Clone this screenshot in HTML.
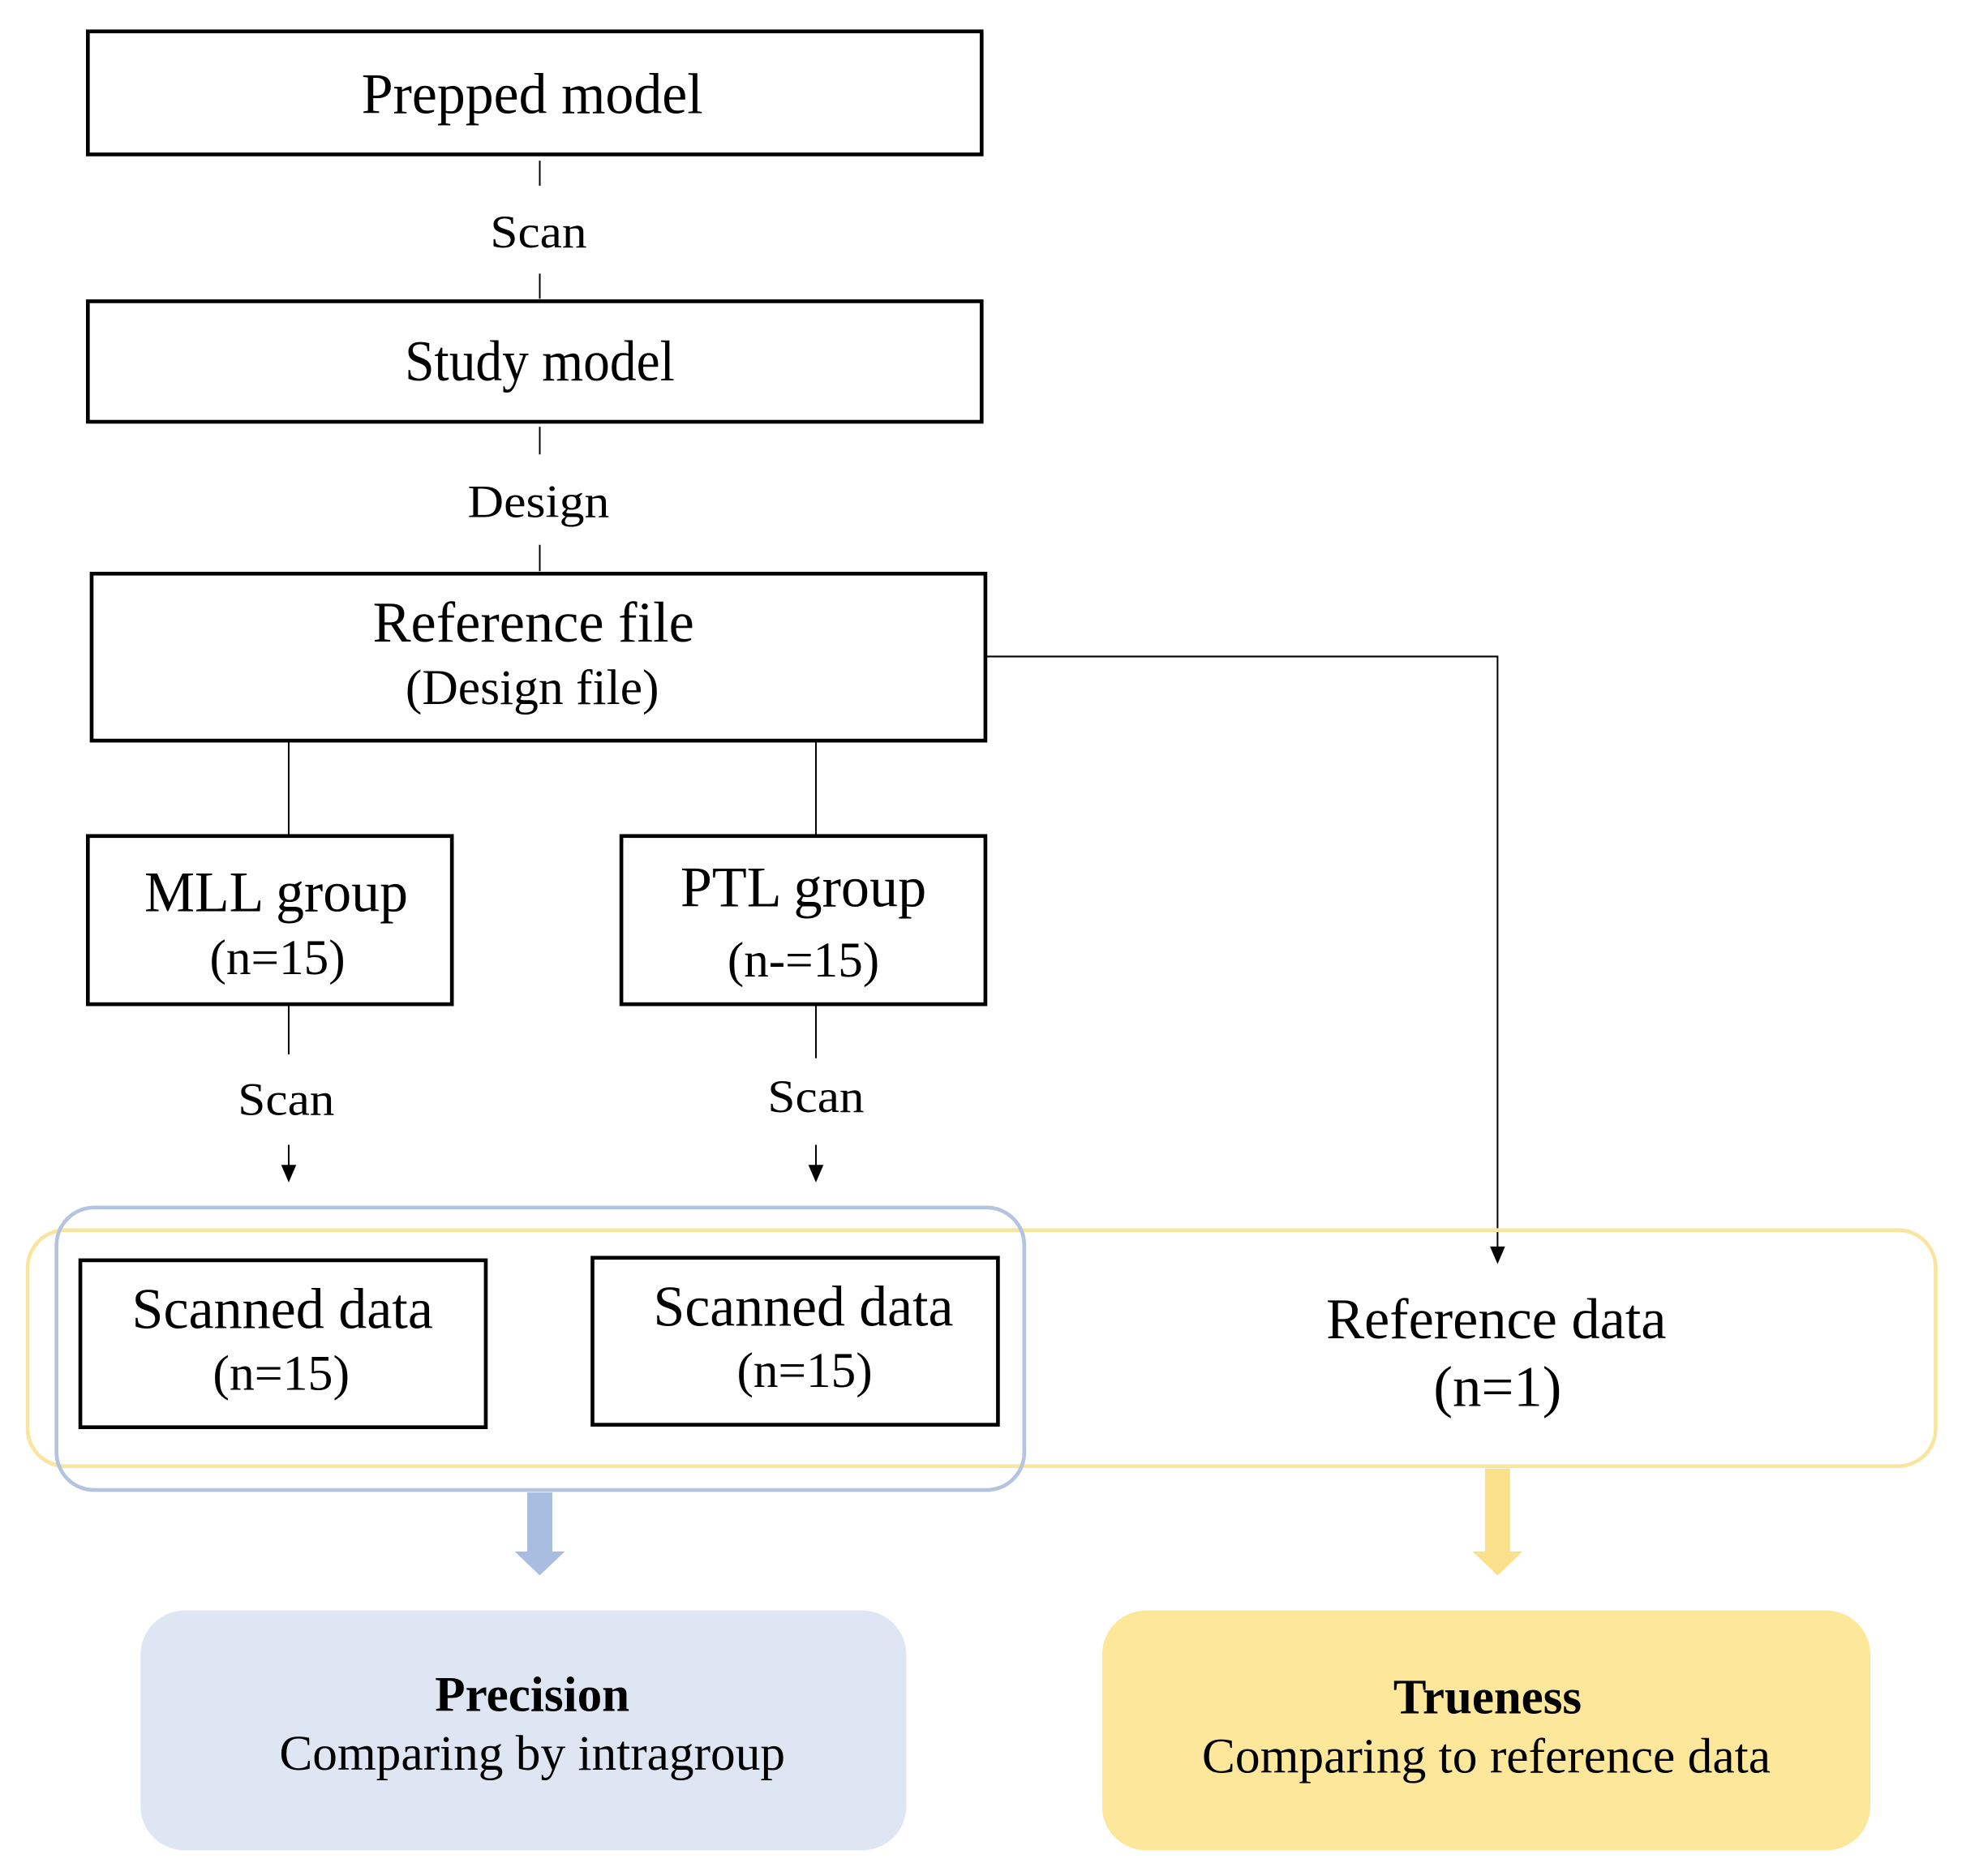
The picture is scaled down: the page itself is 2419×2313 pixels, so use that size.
<!DOCTYPE html>
<html><head><meta charset="utf-8"><style>html,body{margin:0;padding:0;background:#fff}svg{display:block}</style></head>
<body>
<svg width="2419" height="2313" viewBox="0 0 1563 1494.5" xmlns="http://www.w3.org/2000/svg" font-family="Liberation Serif, serif" text-anchor="middle" fill="#000">
<rect x="0" y="0" width="1563" height="1495" fill="#fff"/>
<g fill="none" stroke="#000" stroke-width="3">
<rect x="70" y="25" width="712" height="98"/>
<rect x="70" y="240" width="712" height="96"/>
<rect x="73" y="457" width="712" height="133"/>
<rect x="70" y="666" width="290" height="134"/>
<rect x="495" y="666" width="290" height="134"/>
<rect x="64" y="1004" width="323" height="133"/>
<rect x="472" y="1002" width="323" height="133"/>
</g>
<g stroke="#000" stroke-width="1.3" fill="none">
<line x1="430" y1="128" x2="430" y2="148"/>
<line x1="430" y1="218" x2="430" y2="238"/>
<line x1="430" y1="340" x2="430" y2="362"/>
<line x1="430" y1="434" x2="430" y2="455"/>
<polyline points="785,523 1193,523 1193,995"/>
<line x1="230" y1="590" x2="230" y2="666"/>
<line x1="650" y1="590" x2="650" y2="666"/>
<line x1="230" y1="800" x2="230" y2="840"/>
<line x1="650" y1="800" x2="650" y2="843"/>
<line x1="230" y1="912" x2="230" y2="930"/>
<line x1="650" y1="912" x2="650" y2="930"/>
</g>
<polygon points="1187,993 1199,993 1193,1007"/>
<polygon points="224,928 236,928 230,942"/>
<polygon points="644,928 656,928 650,942"/>
<rect x="22" y="980" width="1520" height="188" rx="30" fill="none" stroke="#f9e4a0" stroke-width="3"/>
<rect x="45" y="962" width="771" height="225" rx="30" fill="none" stroke="#b3c3e0" stroke-width="3"/>
<polygon points="420,1189 440,1189 440,1236 450,1236 430,1255 410,1236 420,1236" fill="#a9bde0"/>
<polygon points="1183,1170 1203,1170 1203,1236 1213,1236 1193,1255 1173,1236 1183,1236" fill="#fbe08c"/>
<rect x="112" y="1283" width="610" height="191" rx="35" fill="#dfe6f3"/>
<rect x="878" y="1283" width="612" height="191" rx="35" fill="#fde79a"/>
<g font-size="46" lengthAdjust="spacingAndGlyphs">
<text x="424" y="90" textLength="272" lengthAdjust="spacingAndGlyphs">Prepped model</text>
<text x="430" y="303" textLength="215" lengthAdjust="spacingAndGlyphs">Study model</text>
<text x="425" y="511" textLength="256" lengthAdjust="spacingAndGlyphs">Reference file</text>
<text x="220" y="726" textLength="210" lengthAdjust="spacingAndGlyphs">MLL group</text>
<text x="640" y="722" textLength="196" lengthAdjust="spacingAndGlyphs">PTL group</text>
<text x="225" y="1058" textLength="240" lengthAdjust="spacingAndGlyphs">Scanned data</text>
<text x="640" y="1056" textLength="239" lengthAdjust="spacingAndGlyphs">Scanned data</text>
<text x="1192" y="1066" textLength="271" lengthAdjust="spacingAndGlyphs">Reference data</text>
<text x="1193" y="1120" textLength="102" lengthAdjust="spacingAndGlyphs">(n=1)</text>
</g>
<g font-size="40">
<text x="424" y="561" textLength="202" lengthAdjust="spacingAndGlyphs">(Design file)</text>
<text x="221" y="776" textLength="108" lengthAdjust="spacingAndGlyphs">(n=15)</text>
<text x="640" y="778" textLength="121" lengthAdjust="spacingAndGlyphs">(n-=15)</text>
<text x="224" y="1107" textLength="109" lengthAdjust="spacingAndGlyphs">(n=15)</text>
<text x="641" y="1105" textLength="108" lengthAdjust="spacingAndGlyphs">(n=15)</text>
<text x="424" y="1363" font-weight="bold" textLength="155" lengthAdjust="spacingAndGlyphs">Precision</text>
<text x="424" y="1410" textLength="403" lengthAdjust="spacingAndGlyphs">Comparing by intragroup</text>
<text x="1185" y="1365" font-weight="bold" textLength="150" lengthAdjust="spacingAndGlyphs">Trueness</text>
<text x="1184" y="1412" textLength="453" lengthAdjust="spacingAndGlyphs">Comparing to reference data</text>
</g>
<g font-size="37">
<text x="429" y="197" textLength="77" lengthAdjust="spacingAndGlyphs">Scan</text>
<text x="429" y="412" textLength="113" lengthAdjust="spacingAndGlyphs">Design</text>
<text x="228" y="888" textLength="77" lengthAdjust="spacingAndGlyphs">Scan</text>
<text x="650" y="886" textLength="77" lengthAdjust="spacingAndGlyphs">Scan</text>
</g>
</svg>
</body></html>
